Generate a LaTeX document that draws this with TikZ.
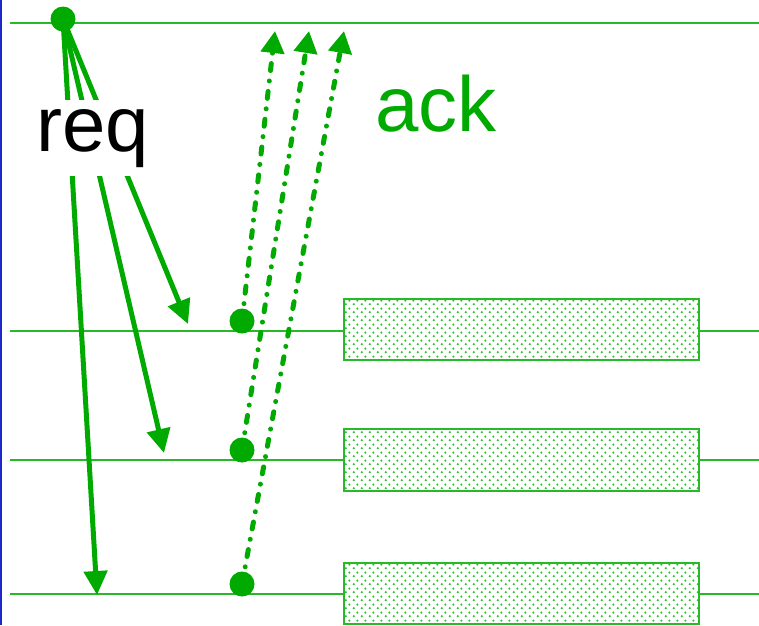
\documentclass[tikz,border=0pt]{standalone}
\usepackage{fontspec}
\setmainfont{Liberation Sans}
\usetikzlibrary{arrows.meta,patterns}
\definecolor{lg}{RGB}{0,170,0}
\definecolor{thin}{RGB}{40,185,40}
\definecolor{dotc}{RGB}{40,190,40}
\definecolor{edge}{RGB}{30,40,200}
\pgfdeclarepatternformonly{hexdots}{\pgfpointorigin}{\pgfpoint{8pt}{8pt}}{\pgfpoint{8pt}{8pt}}{%
  \pgfpathcircle{\pgfpoint{2pt}{2pt}}{1.3pt}%
  \pgfpathcircle{\pgfpoint{6pt}{6pt}}{1.3pt}%
  \pgfusepath{fill}}
\tikzset{
  hline/.style={draw=thin, line width=1.4pt},
  busy/.style={draw=thin, line width=1.6pt, fill=white, postaction={pattern=hexdots, pattern color=dotc}},
  reqarrow/.style={draw=lg, line width=5pt, -{Triangle[length=24pt,width=23pt]}},
  ackarrow/.style={draw=lg, line width=5pt, line cap=round, dash pattern=on 7pt off 10.5pt on 0.01pt off 10.5pt, -{Triangle[length=22pt,width=23pt]}},
  dotnode/.style={circle, fill=lg, draw=none, minimum size=25pt, inner sep=0pt},
  bigtext/.style={font=\fontsize{78}{78}\selectfont, inner sep=0pt}
}
\begin{document}
\begin{tikzpicture}[x=1pt,y=-1pt]
\useasboundingbox (0,0) rectangle (759,625);
\draw[edge, line width=2pt] (1,0) -- (1,625);
% time lines
\coordinate (l1a) at (10,23);  \coordinate (l1b) at (759,23);
\coordinate (l2a) at (10,331); \coordinate (l2b) at (759,331);
\coordinate (l3a) at (10,460); \coordinate (l3b) at (759,460);
\coordinate (l4a) at (10,594); \coordinate (l4b) at (759,594);
\draw[hline] (l1a) -- (l1b);
\draw[hline] (l2a) -- (l2b);
\draw[hline] (l3a) -- (l3b);
\draw[hline] (l4a) -- (l4b);
% busy boxes
\draw[busy] (344,299) rectangle (699,360);
\draw[busy] (344,429) rectangle (699,491);
\draw[busy] (344,563) rectangle (699,624);
% dots
\node[dotnode] (src) at (63,19) {};
\node[dotnode] (d1) at (242,321) {};
\node[dotnode] (d2) at (242,450) {};
\node[dotnode] (d3) at (242,584) {};
% request arrows
\coordinate (r1) at (188,324);
\coordinate (r2) at (164,453);
\coordinate (r3) at (97,595);
\draw[reqarrow] (src.center) -- (r1);
\draw[reqarrow] (src.center) -- (r2);
\draw[reqarrow] (src.center) -- (r3);
% ack arrows
\coordinate (a1) at (275,31);
\coordinate (a2) at (309,31);
\coordinate (a3) at (344,31);
\draw[ackarrow] (d1.center) -- (a1);
\draw[ackarrow] (d2.center) -- (a2);
\draw[ackarrow] (d3.center) -- (a3);
% labels
\node[bigtext, fill=white, inner xsep=3pt, inner ysep=9pt, anchor=base] (req) at (93,151) {req};
\node[bigtext, text=lg, anchor=base] (ack) at (436,131) {ack};
\end{tikzpicture}
\end{document}
